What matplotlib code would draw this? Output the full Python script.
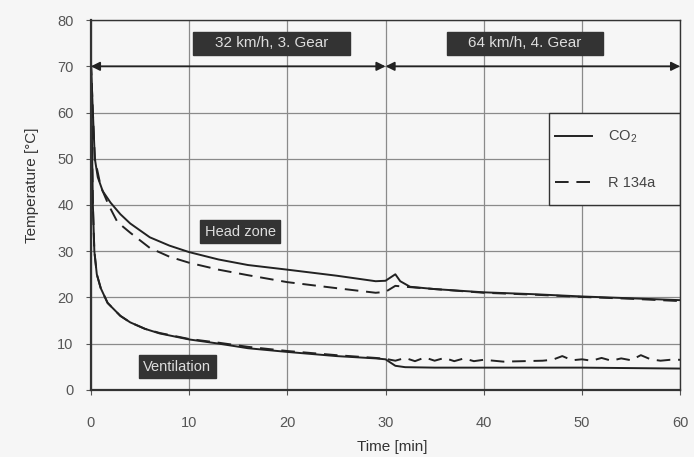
import matplotlib
matplotlib.use("Agg")
import matplotlib.pyplot as plt
from matplotlib.patches import Rectangle

plt.rcParams['font.family'] = ['Liberation Sans', 'DejaVu Sans']
plt.rcParams['mathtext.default'] = 'regular'

# Head zone, CO2 (solid)
head_co2_t = [0, 0.2, 0.4, 0.7, 1.2, 2, 3, 4, 6, 8, 10, 13, 16, 20, 25, 29, 30, 30.5, 31, 31.5, 32.5, 35, 40, 45, 50, 55, 60]
head_co2_T = [71, 60, 50, 46, 43, 40.5, 38, 36, 33, 31.2, 29.8, 28.2, 27, 26, 24.7, 23.5, 23.6, 24.3, 25, 23.5, 22.3, 21.8, 21.1, 20.7, 20.2, 19.8, 19.4]

# Head zone, R 134a (dashed)
head_r134_t = [0, 0.2, 0.4, 1, 1.8, 2.7, 4, 6, 8, 10, 13, 16, 20, 25, 29, 30, 31, 32, 35, 40, 45, 50, 55, 60]
head_r134_T = [71, 60, 50, 44, 40, 36.3, 34, 30.7, 28.8, 27.5, 26, 24.8, 23.3, 22, 21, 21.2, 22.5, 22.3, 21.8, 21, 20.6, 20.1, 19.7, 19.2]

# Ventilation, CO2 (solid)
vent_co2_t = [0, 0.1, 0.2, 0.35, 0.6, 1, 1.7, 3, 4, 5.5, 7, 10, 13, 16, 20, 25, 29, 30, 31, 32, 35, 40, 50, 60]
vent_co2_T = [71, 55, 40, 30, 25, 22, 18.8, 16, 14.6, 13.2, 12.2, 10.9, 10, 9, 8.2, 7.3, 6.8, 6.6, 5.2, 4.9, 4.8, 4.8, 4.8, 4.6]

# Ventilation, R 134a (dashed)
vent_r134_t = [0, 0.1, 0.2, 0.35, 0.6, 1, 1.7, 3, 4, 5.5, 7, 10, 13, 16, 20, 25, 29, 30, 31, 32, 33, 34, 35, 36, 37, 38, 39, 40,
               42, 44, 46, 47, 48, 49, 50, 51, 52, 53, 54, 55, 56, 57, 58, 59, 60]
vent_r134_T = [71, 55, 40, 30, 25, 22, 18.8, 16, 14.6, 13.2, 12.3, 11.0, 10.2, 9.3, 8.4, 7.5, 6.9, 6.7, 6.3, 6.9, 6.2, 7.0, 6.3, 6.9, 6.2, 6.8, 6.2, 6.5,
               6.1, 6.2, 6.3, 6.5, 7.3, 6.4, 6.6, 6.3, 6.9, 6.3, 6.8, 6.4, 7.5, 6.6, 6.3, 6.5, 6.5]

x_ticks = [0, 10, 20, 30, 40, 50, 60]
y_ticks = [0, 10, 20, 30, 40, 50, 60, 70, 80]

phases = ["32 km/h, 3. Gear", "64 km/h, 4. Gear"]
phase_bounds = [(0, 30), (30, 60)]
phase_label_x = [18.4, 44.2]

bg = '#f6f6f6'
ink = '#222222'
fig = plt.figure(figsize=(6.94, 4.57), dpi=100, facecolor=bg)
ax = fig.add_axes([0.131, 0.147, 0.849, 0.809], facecolor=bg)

ax.set_xlim(0, 60)
ax.set_ylim(0, 80)
ax.set_xticks(x_ticks)
ax.set_yticks(y_ticks)
ax.grid(True, color='#8a8a8a', linewidth=0.9)
ax.set_axisbelow(True)

for s in ax.spines.values():
    s.set_color('#333333')
    s.set_linewidth(1.0)
ax.spines['left'].set_linewidth(1.6)
ax.spines['bottom'].set_linewidth(1.6)

ax.tick_params(axis='x', length=3.5, pad=15, labelsize=10.5, labelcolor='#555555', color='#555555')
ax.tick_params(axis='y', length=3.5, pad=9, labelsize=10.5, labelcolor='#555555', color='#555555')

lw = 1.4
dash = (7, 4)
ax.plot(head_co2_t, head_co2_T, color=ink, lw=lw, label='CO$_2$')
ax.plot(head_r134_t, head_r134_T, color=ink, lw=lw, dashes=dash, label='R 134a')
ax.plot(vent_co2_t, vent_co2_T, color=ink, lw=lw)
ax.plot(vent_r134_t, vent_r134_T, color=ink, lw=lw, dashes=dash)

# phase arrows
for (a, b) in phase_bounds:
    ax.annotate('', xy=(b, 70), xytext=(a, 70),
                arrowprops=dict(arrowstyle='<|-|>', color=ink, lw=1.3,
                                mutation_scale=13, shrinkA=0, shrinkB=0))

boxstyle = dict(boxstyle='square,pad=0.3', facecolor='#333333', edgecolor='#333333')
for lbl, xc in zip(phases, phase_label_x):
    ax.text(xc, 75, '    ' + lbl + '    ', ha='center', va='center', fontsize=11,
            color='#dddddd', bbox=boxstyle)

ax.text(15.2, 34.2, 'Head zone', ha='center', va='center', fontsize=10.5, color='#dddddd', bbox=boxstyle)
ax.text(8.8, 5.0, 'Ventilation', ha='center', va='center', fontsize=10.5, color='#dddddd', bbox=boxstyle)

# legend box
ax.add_patch(Rectangle((46.6, 40), 13.4, 20, facecolor=bg, edgecolor='#333333', lw=1.0, zorder=2.5))
leg = ax.legend(loc='center left', bbox_to_anchor=(0.788, 0.623), frameon=False,
                fontsize=10.5, borderpad=0, labelspacing=2.1,
                handlelength=2.5, handletextpad=1.1, borderaxespad=0)
leg.set_zorder(3)
for t in leg.get_texts():
    t.set_color('#444444')

ax.set_ylabel('Temperature [°C]', fontsize=11, color='#333333')
ax.set_xlabel('Time [min]', fontsize=11, color='#333333')
ax.yaxis.set_label_coords(-0.088, 0.554)
ax.xaxis.set_label_coords(0.511, -0.136)

fig.savefig('out.png', dpi=100, facecolor=bg)
